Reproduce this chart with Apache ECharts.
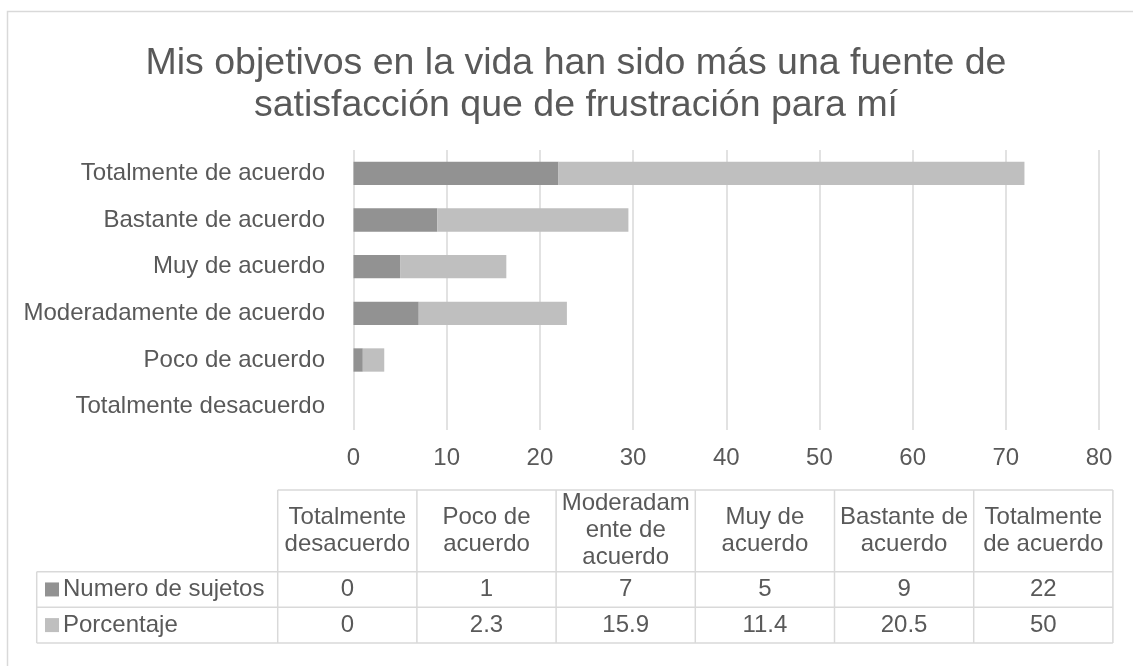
<!DOCTYPE html>
<html>
<head>
<meta charset="utf-8">
<script src="https://cdn.jsdelivr.net/npm/echarts@6/dist/echarts.min.js"></script>
<style>
  html, body { margin: 0; padding: 0; background: #fff; }
  #chart { width: 1133px; height: 666px; }
</style>
</head>
<body>
<div id="chart"></div>
<script>
// categorías (de abajo hacia arriba en el eje, de izquierda a derecha en la tabla)
var categories = ['Totalmente desacuerdo', 'Poco de acuerdo', 'Moderadamente de acuerdo',
  'Muy de acuerdo', 'Bastante de acuerdo', 'Totalmente de acuerdo']
var headerLabels = ['Totalmente\ndesacuerdo', 'Poco de\nacuerdo', 'Moderadam\nente de\nacuerdo',
  'Muy de\nacuerdo', 'Bastante de\nacuerdo', 'Totalmente\nde acuerdo']
var seriesNames = ['Numero de sujetos', 'Porcentaje']
var sujetos = [0, 1, 7, 5, 9, 22]
var porcentaje = [0, 2.3, 15.9, 11.4, 20.5, 50]
var xMin = 0, xMax = 80, xStep = 10

var TITLE = 'Mis objetivos en la vida han sido más una fuente de\nsatisfacción que de frustración para mí'
var FONT = 'Liberation Sans, Arial, sans-serif'
var FS = 24
var TEXT = '#595959'
var LINE = '#d9d9d9'
var COLORS = ['#929292', '#bfbfbf']

var chart = echarts.init(document.getElementById('chart'), null, { renderer: 'canvas' })

/* ── tabla de datos (debajo del gráfico) ───────────────────────────────── */
var T = { left: 36.7, colLeft: 277.7, colW: 139.2, rows: [490, 571.7, 607.2, 643] }
var tRight = T.colLeft + T.colW * categories.length

function hline(x1, x2, y) {
  return { type: 'line', shape: { x1: x1, y1: y, x2: x2, y2: y }, style: { stroke: LINE, lineWidth: 1.5 }, silent: true }
}
function vline(x, y1, y2) {
  return { type: 'line', shape: { x1: x, y1: y1, x2: x, y2: y2 }, style: { stroke: LINE, lineWidth: 1.5 }, silent: true }
}
function cellText(txt, x, y, align, lh) {
  return {
    type: 'text', x: x, y: y, silent: true,
    style: { text: txt, fill: TEXT, font: FS + 'px ' + FONT, align: align, verticalAlign: 'middle', lineHeight: lh || 27 }
  }
}

var table = []
table.push(hline(T.colLeft, tRight, T.rows[0]))
table.push(hline(T.left, tRight, T.rows[1]))
table.push(hline(T.left, tRight, T.rows[2]))
table.push(hline(T.left, tRight, T.rows[3]))
table.push(vline(T.left, T.rows[1], T.rows[3]))
for (var c = 0; c <= categories.length; c++) {
  table.push(vline(T.colLeft + c * T.colW, T.rows[0], T.rows[3]))
}
headerLabels.forEach(function (h, i) {
  table.push(cellText(h, T.colLeft + (i + 0.5) * T.colW, (T.rows[0] + T.rows[1]) / 2, 'center'))
})
;[sujetos, porcentaje].forEach(function (arr, r) {
  var cy = (T.rows[r + 1] + T.rows[r + 2]) / 2
  table.push({
    type: 'rect', silent: true,
    shape: { x: 45, y: cy - 7, width: 14, height: 14 },
    style: { fill: COLORS[r] }
  })
  table.push(cellText(seriesNames[r], 63, cy, 'left'))
  arr.forEach(function (v, i) {
    table.push(cellText(String(v), T.colLeft + (i + 0.5) * T.colW, cy, 'center'))
  })
})

// borde del área del gráfico
table.push({
  type: 'rect', silent: true,
  shape: { x: 7.5, y: 11.5, width: 1140, height: 700 },
  style: { fill: 'none', stroke: LINE, lineWidth: 1.5 }
})

chart.setOption({
  backgroundColor: '#ffffff',
  animation: false,
  textStyle: { fontFamily: FONT },
  title: {
    text: TITLE,
    left: 571,
    top: 38,
    textAlign: 'center',
    textStyle: { color: TEXT, fontSize: 37.5, fontWeight: 'normal', fontFamily: FONT, lineHeight: 42 }
  },
  grid: { left: 353.5, right: 34, top: 150, bottom: 236, containLabel: false },
  xAxis: {
    type: 'value',
    min: xMin, max: xMax, interval: xStep,
    axisLine: { show: false },
    axisTick: { show: false },
    axisLabel: { color: TEXT, fontSize: FS, margin: 16, lineHeight: 24, fontFamily: FONT },
    splitLine: { lineStyle: { color: LINE, width: 1.5 } }
  },
  yAxis: {
    type: 'category',
    data: categories,
    axisLine: { show: false },
    axisTick: { show: false },
    axisLabel: { color: TEXT, fontSize: FS, margin: 28.5, fontFamily: FONT }
  },
  series: [
    { name: seriesNames[0], type: 'bar', stack: 'total', data: sujetos, barWidth: '50%', itemStyle: { color: COLORS[0] } },
    { name: seriesNames[1], type: 'bar', stack: 'total', data: porcentaje, barWidth: '50%', itemStyle: { color: COLORS[1] } }
  ],
  graphic: table
})

window.addEventListener('resize', function () { chart.resize() })
</script>
</body>
</html>
